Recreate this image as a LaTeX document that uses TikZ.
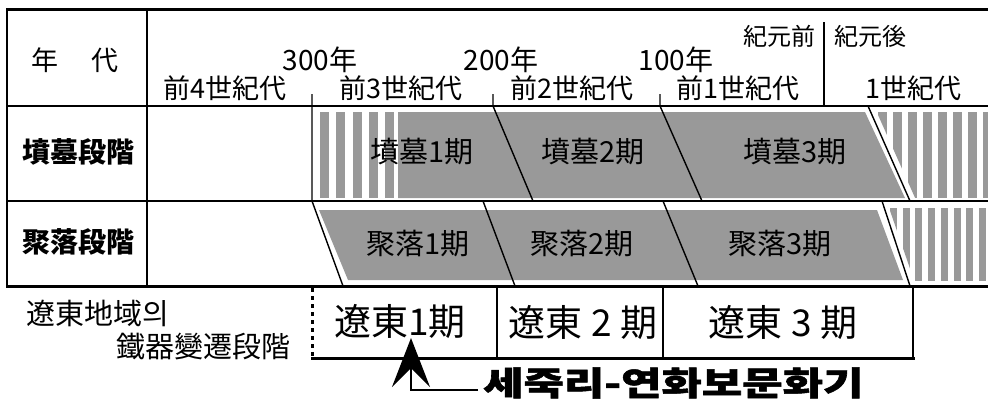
\documentclass[tikz,border=0pt]{standalone}
\usepackage{fontspec}
\usetikzlibrary{arrows.meta}
\newfontfamily\jpfont{Noto Sans CJK JP}
\newfontfamily\krfont{Noto Sans CJK KR}
\definecolor{bandgray}{RGB}{153,153,153}

\begin{document}
\begin{tikzpicture}[
        x=1pt, y=-1pt,
        rule/.style={draw=black, line width=2pt},
        heavyrule/.style={draw=black, line width=3pt},
        slant/.style={draw=black, line width=1.4pt},
        hdr/.style={font=\jpfont\fontsize{27}{30}\selectfont, inner sep=0pt},
        stage/.style={font=\jpfont\bfseries\fontsize{28}{31}\selectfont, inner sep=0pt},
        period/.style={font=\jpfont\fontsize{29}{32}\selectfont, inner sep=0pt},
        liao/.style={font=\jpfont\fontsize{37}{40}\selectfont, inner sep=0pt},
        band/.style={fill=bandgray},
    ]
    \useasboundingbox (0,0) rectangle (988,407);

    %====================== bands ======================
    % 墳墓
    \foreach \k in {0,...,4} {
        \fill[band] (320+16.3*\k,112) rectangle ++(9,86);
    }
    \fill[band] (398,112) -- (865,112) -- (905,198) -- (398,198) -- cycle;
    \begin{scope}
        \clip (874,106) -- (988,106) -- (988,200) -- (916,200) -- cycle;
        \foreach \k in {0,...,7} {
            \fill[band] (878+15*\k,112) rectangle ++(8.5,86);
        }
    \end{scope}
    % 聚落
    \fill[band] (319,210) -- (877,210) -- (903,280) -- (348,280) -- cycle;
    \begin{scope}
        \clip (887,202) -- (988,202) -- (988,286) -- (916,286) -- cycle;
        \foreach \k in {0,...,7} {
            \fill[band] (890+12.7*\k,208) rectangle ++(7,73);
        }
    \end{scope}

    %====================== table ======================
    \draw[heavyrule] (7,9) -- (988,9);
    \draw[rule] (7,8) -- (7,287);
    \draw[rule] (147,9) -- (147,286);
    \draw[rule] (7,106) -- (988,106);
    \draw[rule] (7,201) -- (988,201);
    \draw[heavyrule] (6,286) -- (988,286);

    \draw[slant] (312,94) -- (312,201) -- (343,286);
    \draw[slant] (493,94) -- (493,106) -- (533,201);
    \draw[slant] (660,94) -- (660,106) -- (702,201);
    \draw[slant] (868,106) -- (910,201);
    \draw[slant] (483,201) -- (515,286);
    \draw[slant] (663,201) -- (698,286);
    \draw[slant] (882,201) -- (910,286);
    \draw[slant] (824,22) -- (824,106);

    %====================== 遼東 ======================
    \draw[line width=3pt, dash pattern=on 4pt off 4pt] (312,288) -- (312,358);
    \draw[heavyrule] (311,358) -- (914.5,358);
    \draw[rule] (497,286) -- (497,358);
    \draw[rule] (663,286) -- (663,358);
    \draw[rule] (913,286) -- (913,358);

    %====================== texts ======================
    \node[hdr] (nendai) at (75,60) {年\hspace{1.2em}代};
    \node[hdr, font=\jpfont\fontsize{28}{31}\selectfont] (y300) at (320,60) {300年};
    \node[hdr, font=\jpfont\fontsize{28}{31}\selectfont] (y200) at (501,60) {200年};
    \node[hdr, font=\jpfont\fontsize{28}{31}\selectfont] (y100) at (676,60) {100年};
    \node[hdr, font=\jpfont\fontsize{24}{27}\selectfont] (bc) at (779,36) {紀元前};
    \node[hdr, font=\jpfont\fontsize{24}{27}\selectfont] (ad) at (870,36) {紀元後};
    \node[hdr] (c4) at (225,88) {前4世紀代};
    \node[hdr] (c3) at (401,88) {前3世紀代};
    \node[hdr] (c2) at (572,88) {前2世紀代};
    \node[hdr] (c1) at (738,88) {前1世紀代};
    \node[hdr] (ad1) at (913,88) {1世紀代};

    \node[stage] (tomb) at (79,152) {墳墓段階};
    \node[stage] (village) at (79,242) {聚落段階};

    \node[period] (tomb1) at (422,152) {墳墓1期};
    \node[period] (tomb2) at (593,152) {墳墓2期};
    \node[period] (tomb3) at (795,152) {墳墓3期};
    \node[period] (vil1) at (418,244) {聚落1期};
    \node[period] (vil2) at (582,244) {聚落2期};
    \node[period] (vil3) at (780,244) {聚落3期};

    \node[hdr, font=\jpfont\fontsize{29}{32}\selectfont] (region) at (98,313) {遼東地域\krfont 의};
    \node[hdr, font=\jpfont\fontsize{29}{32}\selectfont] (iron) at (203,347) {鐵器變遷段階};

    \node[liao] (liao1) at (400,321) {遼東1期};
    \node[liao] (liao2) at (583,322) {遼東 2 期};
    \node[liao] (liao3) at (783,322) {遼東 3 期};

    \node[font=\krfont\bfseries\addfontfeature{FakeBold=1.5}\fontsize{33}{36}\selectfont, inner sep=0pt, anchor=west] (sejuk) at (483,383)
        {\scalebox{1.33}[1]{세죽리-연화보문화기}};

    \coordinate (tip) at (411,338);
    \draw[line width=1.5pt, -{Stealth[length=49pt, width=38pt, inset=19pt]}]
        ([yshift=-7pt, xshift=-5pt]sejuk.west) -| (tip);

\end{tikzpicture}
\end{document}
